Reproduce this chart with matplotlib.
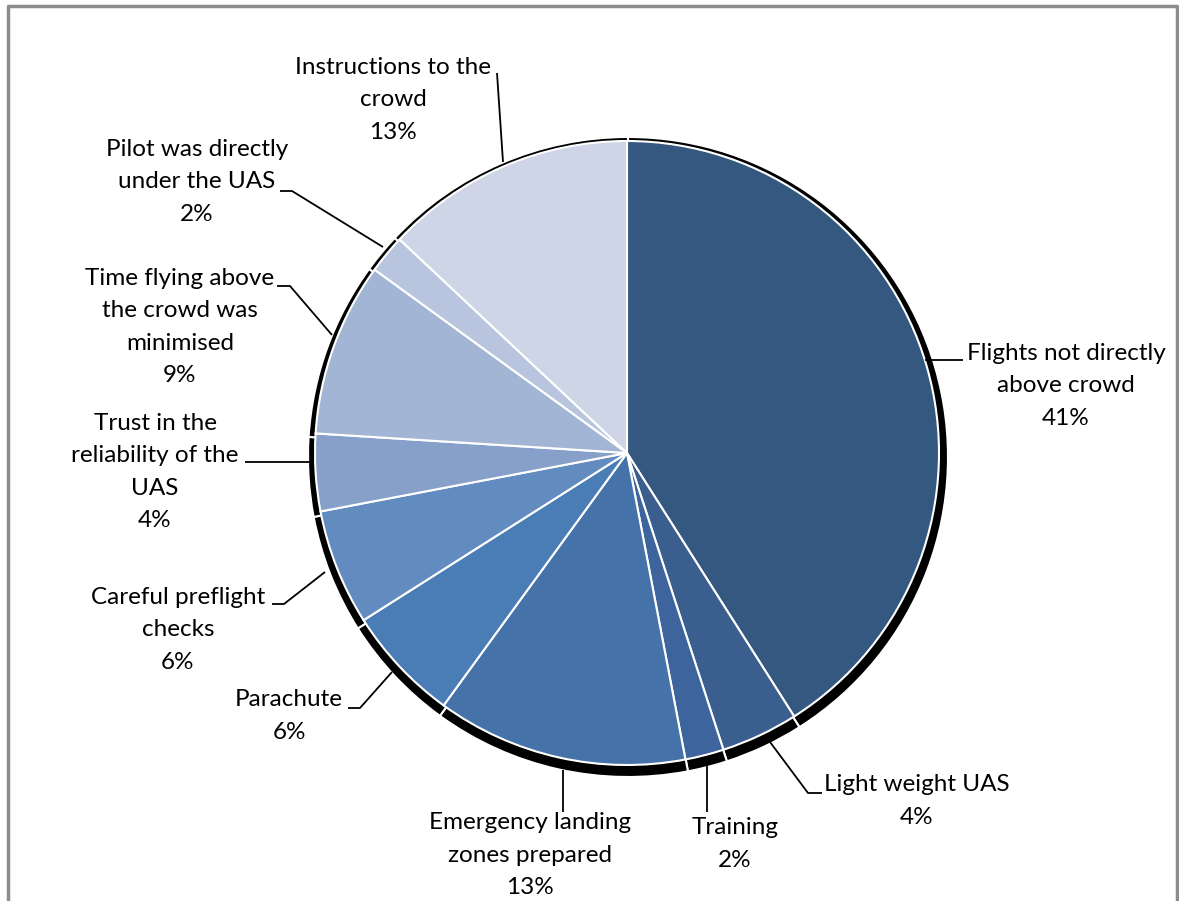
"""Pie chart: measures taken to keep UAS flights over crowds safe (share of responses)."""
import matplotlib

matplotlib.use("Agg")
import matplotlib.pyplot as plt

W, H = 1179, 901

categories = [
    "Flights not directly\nabove crowd",
    "Light weight UAS",
    "Training",
    "Emergency landing\nzones prepared",
    "Parachute",
    "Careful preflight\nchecks",
    "Trust in the\nreliability of the\nUAS",
    "Time flying above\nthe crowd was\nminimised",
    "Pilot was directly\nunder the UAS",
    "Instructions to the\ncrowd",
]
shares = [41, 4, 2, 13, 6, 6, 4, 9, 2, 13]  # percent, as printed on the labels
colors = ["#34587f", "#3a5f8f", "#3d649c", "#4572a8", "#4a7db5",
          "#628bc0", "#86a0ca", "#a3b5d4", "#b9c5de", "#cdd5e6"]

# layout in image pixels (y measured from the top)
CX, CY, R = 627, 453, 312
label_xy = [(1066, 386), (917, 801), (735, 844), (530, 855), (289, 716),
            (178, 630), (155, 472), (180, 327), (197, 182), (393, 100)]
leaders = [
    [(925, 360), (963, 360)],
    [(770, 742), (808, 793), (822, 793)],
    [(707, 762), (707, 812)],
    [(563, 770), (563, 812)],
    [(392, 672), (360, 708), (348, 708)],
    [(325, 572), (284, 604), (272, 604)],
    [(313, 462), (245, 462)],
    [(332, 335), (290, 286), (277, 286)],
    [(383, 247), (292, 191), (280, 191)],
    [(503, 162), (497, 73)],
]

fig = plt.figure(figsize=(W / 100, H / 100), dpi=100)
ax = fig.add_axes([0, 0, 1, 1])

# shadow: a slightly larger black pie pushed down a few pixels
ax.pie(shares, colors=["black"] * len(shares), startangle=90, counterclock=False,
       center=(CX + 1, H - CY - 4), radius=R + 8,
       wedgeprops=dict(edgecolor="white", linewidth=1.5))
ax.pie(shares, colors=colors, startangle=90, counterclock=False,
       center=(CX, H - CY), radius=R,
       wedgeprops=dict(edgecolor="white", linewidth=1.5))

for name, pct, (tx, ty), pts in zip(categories, shares, label_xy, leaders):
    ax.text(tx, H - ty, f"{name}\n{pct}%", ha="center", va="center",
            fontsize=17.5, family="Lato", linespacing=1.66, color="black")
    ax.plot([p[0] for p in pts], [H - p[1] for p in pts], color="black",
            lw=1.3, solid_capstyle="butt", zorder=5)

# chart-area border
ax.plot([7.5, 7.5, 1177, 1177], [-5, H - 6, H - 6, -5], color="#8c8c8c", lw=2.5, zorder=6)

ax.set_xlim(0, W)
ax.set_ylim(0, H)
ax.set_aspect("equal")
ax.axis("off")
fig.savefig("out.png", dpi=100)
